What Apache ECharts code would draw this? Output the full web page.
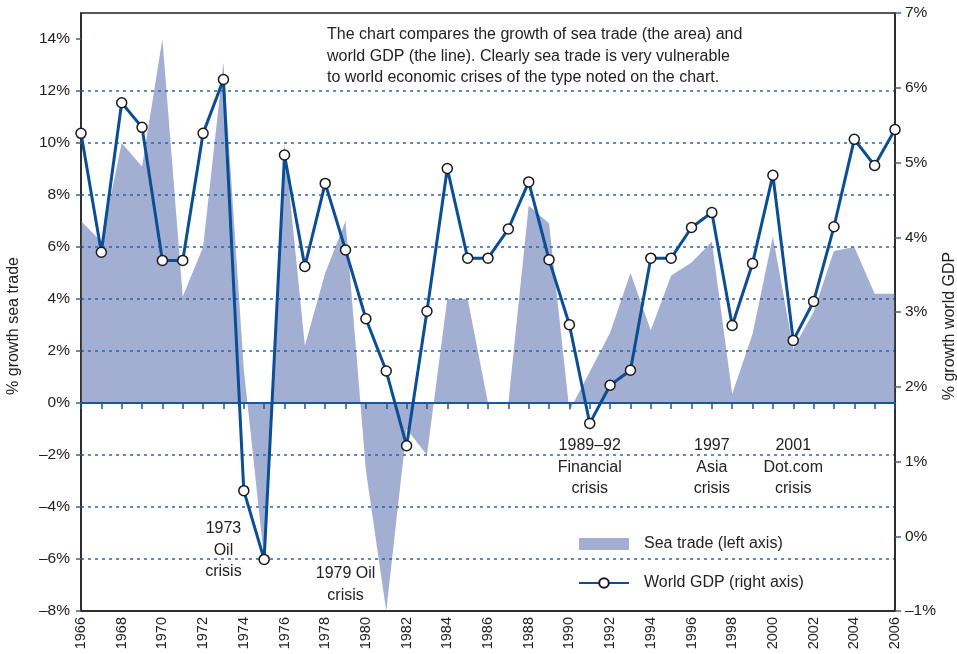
<!DOCTYPE html>
<html><head><meta charset="utf-8">
<script src="https://cdn.jsdelivr.net/npm/echarts@6/dist/echarts.min.js"></script>
<style>html,body{margin:0;padding:0;background:#fff}#c{width:957px;height:654px}</style>
</head><body><div id="c"></div>
<script>
const years = ['1966','1967','1968','1969','1970','1971','1972','1973','1974','1975',
  '1976','1977','1978','1979','1980','1981','1982','1983','1984','1985',
  '1986','1987','1988','1989','1990','1991','1992','1993','1994','1995',
  '1996','1997','1998','1999','2000','2001','2002','2003','2004','2005','2006'];
const seaTrade = [7.0, 6.2, 10.0, 9.1, 14.0, 4.1, 6.0, 13.1, 1.3, -6.0,
  10.0, 2.2, 5.0, 7.0, -2.6, -8.0, -1.0, -2.0, 4.0, 4.0,
  0.0, 0.0, 7.6, 6.9, -0.3, 1.2, 2.7, 5.0, 2.8, 4.9,
  5.4, 6.2, 0.35, 2.65, 6.4, 2.1, 3.5, 5.85, 6.0, 4.2, 4.2];
const worldGDP = [5.39, 3.80, 5.80, 5.47, 3.69, 3.69, 5.39, 6.11, 0.61, -0.31,
  5.10, 3.61, 4.72, 3.83, 2.91, 2.21, 1.21, 3.01, 4.92, 3.72,
  3.72, 4.11, 4.74, 3.70, 2.83, 1.51, 2.02, 2.22, 3.72, 3.72,
  4.13, 4.33, 2.82, 3.65, 4.83, 2.62, 3.14, 4.14, 5.31, 4.96, 5.44];
const leftTicks = [-8, -6, -4, -2, 0, 2, 4, 6, 8, 10, 12, 14];
const rightTicks = [-1, 0, 1, 2, 3, 4, 5, 6, 7];
const seriesNames = ['Sea trade (left axis)', 'World GDP (right axis)'];
const axisNames = ['% growth sea trade', '% growth world GDP'];
const noteLines = ['The chart compares the growth of sea trade (the area) and',
  'world GDP (the line). Clearly sea trade is very vulnerable',
  'to world economic crises of the type noted on the chart.'];
// annotation: [text, year index (fractional), left-axis value at top of text]
const annotations = [
  ['1973\nOil\ncrisis', 7.17, -4.42],
  ['1979 Oil\ncrisis', 12.87, -6.15],
  ['1989\u201392\nFinancial\ncrisis', 25.16, -1.23],
  ['1997\nAsia\ncrisis', 30.76, -1.23],
  ['2001\nDot.com\ncrisis', 34.94, -1.23]
];

const FONT = '"Liberation Sans", Arial, Helvetica, sans-serif';
const AREA = '#a3aed3';
const LINE = '#0b4e96';
const GRIDC = '#2b67a8';
const TXT = '#222';
const pct = v => (v < 0 ? '\u2013' + Math.abs(v) : String(v)) + '%';

const chart = echarts.init(document.getElementById('c'), null, {renderer: 'canvas'});
chart.setOption({
  animation: false,
  textStyle: {fontFamily: FONT},
  grid: {left: 81, right: 62, top: 13, bottom: 43, show: true, borderColor: '#222', borderWidth: 1.5, backgroundColor: 'transparent'},
  legend: {
    left: 578, top: 536, orient: 'vertical', itemWidth: 50, itemHeight: 12, itemGap: 23,
    padding: 0, selectedMode: false,
    textStyle: {fontFamily: FONT, fontSize: 16, color: TXT, padding: [0, 0, 0, 10], lineHeight: 12},
    data: [{name: seriesNames[0], icon: 'rect'}, {name: seriesNames[1]}]
  },
  xAxis: [{
    type: 'category', data: years, boundaryGap: false, position: 'bottom',
    axisLine: {show: true, onZero: false, lineStyle: {color: '#222', width: 1.5}},
    axisTick: {show: false},
    axisLabel: {interval: 1, rotate: 90, margin: 6, fontSize: 14.5, color: TXT, fontFamily: FONT},
    splitLine: {show: false}
  }, {
    type: 'category', data: years, boundaryGap: false, position: 'bottom', z: 3,
    axisLine: {show: true, onZero: true, onZeroAxisIndex: 0, lineStyle: {color: '#1a56a0', width: 2}},
    axisTick: {show: true, interval: 0, length: 6, lineStyle: {color: '#1a56a0', width: 1.5}},
    axisLabel: {show: false},
    splitLine: {show: false}
  }],
  yAxis: [{
    type: 'value', min: -8, max: 15, interval: 2, position: 'left', z: 2,
    axisLine: {show: true, onZero: false, lineStyle: {color: '#222', width: 1.5}},
    axisTick: {show: true, length: 5, customValues: leftTicks, lineStyle: {color: GRIDC, width: 1.5}},
    axisLabel: {customValues: leftTicks, formatter: pct, margin: 11, fontSize: 15.5, color: TXT, fontFamily: FONT},
    splitLine: {show: true, showMinLine: false, showMaxLine: false, lineStyle: {color: GRIDC, width: 1.6, type: [3, 4]}}
  }, {
    type: 'value', min: -1, max: 7, interval: 1, position: 'right', z: 2,
    axisLine: {show: true, onZero: false, lineStyle: {color: '#222', width: 1.5}},
    axisTick: {show: true, length: 6, customValues: rightTicks, lineStyle: {color: GRIDC, width: 1.5}},
    axisLabel: {customValues: rightTicks, formatter: pct, margin: 10, fontSize: 15.5, color: TXT, fontFamily: FONT},
    splitLine: {show: false}
  }],
  series: [{
    name: seriesNames[0], type: 'line', xAxisIndex: 0, yAxisIndex: 0, z: 1,
    data: seaTrade, showSymbol: false, symbol: 'none',
    lineStyle: {width: 0, color: AREA}, itemStyle: {color: AREA},
    areaStyle: {color: AREA, opacity: 1}, silent: true
  }, {
    name: seriesNames[1], type: 'line', xAxisIndex: 0, yAxisIndex: 1, z: 4,
    data: worldGDP, symbol: 'circle', symbolSize: 10, showSymbol: true,
    lineStyle: {width: 3, color: LINE},
    itemStyle: {color: '#fff', borderColor: '#1a1a1a', borderWidth: 1.5},
    clip: false
  }]
});

const gfx = [];
// explanatory note box
gfx.push({type: 'rect', shape: {x: 318, y: 16, width: 428, height: 71}, style: {fill: '#fff'}, z: 10});
gfx.push({type: 'text', x: 327, y: 24, z: 11, style: {text: noteLines.join('\n'), font: '16px ' + FONT, fill: TXT, lineHeight: 21.5}});
// axis names
gfx.push({type: 'text', x: 14, y: 326, rotation: Math.PI / 2, z: 11,
  style: {text: axisNames[0], font: '16px ' + FONT, fill: TXT, align: 'center', verticalAlign: 'middle'}});
gfx.push({type: 'text', x: 950, y: 326, rotation: Math.PI / 2, z: 11,
  style: {text: axisNames[1], font: '16px ' + FONT, fill: TXT, align: 'center', verticalAlign: 'middle'}});
// annotations
annotations.forEach(a => {
  const p = chart.convertToPixel({xAxisIndex: 0, yAxisIndex: 0}, [a[1], a[2]]);
  gfx.push({type: 'text', x: p[0], y: p[1], z: 11,
    style: {text: a[0], font: '16px ' + FONT, fill: TXT, align: 'center', verticalAlign: 'top', lineHeight: 21.5}});
});
chart.setOption({graphic: gfx});
</script>
</body></html>
